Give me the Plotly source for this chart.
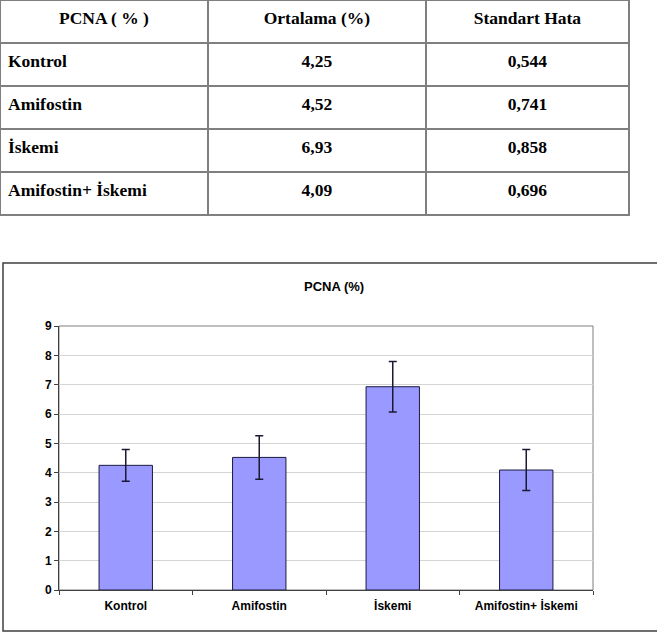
import plotly.graph_objects as go

W, H = 657, 637

categories = ["Kontrol", "Amifostin", "İskemi", "Amifostin+ İskemi"]
means = [4.25, 4.52, 6.93, 4.09]
std_err = [0.544, 0.741, 0.858, 0.696]
header = ["PCNA ( % )", "Ortalama (%)", "Standart Hata"]
chart_title = "PCNA (%)"
y_ticks = list(range(0, 10))

mean_txt = [f"{v:.2f}".replace(".", ",") for v in means]
se_txt = [f"{v:.3f}".replace(".", ",") for v in std_err]

def px_x(x):
    return x / W

def px_y(y):
    return 1 - y / H

fig = go.Figure()

# Table
fig.add_trace(go.Table(
    domain=dict(x=[0, px_x(629)], y=[px_y(224), 1]),
    columnwidth=[208, 218, 203],
    header=dict(
        values=[f"<b>{h}</b>" for h in header],
        align="center",
        height=43,
        fill_color="white",
        line=dict(color="#7f7f7f", width=1.5),
        font=dict(family="Liberation Serif", size=17.5, color="black"),
    ),
    cells=dict(
        values=[[f"<b>{c}</b>" for c in categories],
                [f"<b>{m}</b>" for m in mean_txt],
                [f"<b>{s}</b>" for s in se_txt]],
        align=["left", "center", "center"],
        height=43,
        fill_color="white",
        line=dict(color="#7f7f7f", width=1.5),
        font=dict(family="Liberation Serif", size=17.5, color="black"),
    ),
))

# Bar chart
fig.add_trace(go.Bar(
    x=categories,
    y=means,
    marker=dict(color="#9999FF", line=dict(color="#1a1a40", width=1)),
    error_y=dict(type="data", array=std_err, visible=True,
                 color="#1a1a33", thickness=1.5, width=4),
    showlegend=False,
))

fig.update_layout(
    width=W, height=H,
    margin=dict(l=0, r=0, t=0, b=0, autoexpand=False),
    paper_bgcolor="white",
    plot_bgcolor="white",
    bargap=0.6,
    font=dict(family="Liberation Sans", color="black"),
    xaxis=dict(
        domain=[px_x(59), px_x(593)],
        type="category",
        automargin=False,
        showline=True, linecolor="#404040", linewidth=1,
        ticks="outside", tickson="boundaries", ticklen=4, tickcolor="#404040",
        tickfont=dict(family="Liberation Sans", size=12, color="black", weight="bold"),
        ticklabelstandoff=5,
        showgrid=False,
        anchor="y",
    ),
    yaxis=dict(
        domain=[px_y(590), px_y(326)],
        range=[0, 9],
        tickvals=y_ticks,
        automargin=False,
        showline=True, linecolor="#404040", linewidth=1,
        ticks="outside", ticklen=4, tickcolor="#404040",
        tickfont=dict(family="Liberation Sans", size=12, color="black", weight="bold"),
        showgrid=True, gridcolor="#d4d4d4", gridwidth=1,
        zeroline=False,
        anchor="x",
    ),
    shapes=[
        dict(type="rect", xref="paper", yref="paper",
             x0=px_x(3), x1=1.02, y0=px_y(631), y1=px_y(263),
             line=dict(color="#404040", width=1.5), fillcolor="rgba(0,0,0,0)",
             layer="below"),
        dict(type="rect", xref="x domain", yref="y domain",
             x0=0, x1=1, y0=0, y1=1,
             line=dict(color="#7f7f7f", width=1), fillcolor="rgba(0,0,0,0)",
             layer="below"),
    ],
    annotations=[
        dict(text=f"<b>{chart_title}</b>", xref="paper", yref="paper",
             x=px_x(334), y=px_y(287), xanchor="center", yanchor="middle",
             showarrow=False,
             font=dict(family="Liberation Sans", size=13, color="black")),
    ],
)

fig.write_html("out.html")
